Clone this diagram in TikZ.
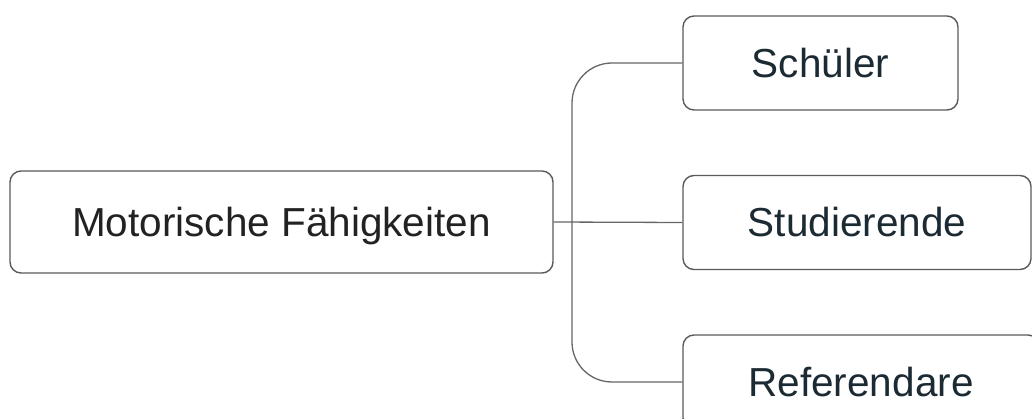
\documentclass[tikz,border=0pt]{standalone}
\usepackage{fontspec}
\setmainfont{Liberation Sans}
\definecolor{boxline}{HTML}{5A5A5A}
\definecolor{connline}{HTML}{666666}
\definecolor{maintext}{HTML}{222222}
\definecolor{leaftext}{HTML}{1B2A33}
\tikzset{
  box/.style={draw=boxline, line width=1.4pt, rounded corners=11pt, fill=white,
    inner sep=0pt, text height=29pt, text depth=0pt,
    font=\fontsize{40.5}{48}\selectfont},
  mainbox/.style={box, text=maintext, minimum width=543pt, minimum height=102pt},
  leafbox/.style={box, text=leaftext, minimum height=94pt},
  conn/.style={draw=connline, line width=1.3pt}
}
\begin{document}
\begin{tikzpicture}[x=1pt,y=1pt]
\useasboundingbox (0,0) rectangle (1032,-419);
\node[mainbox] (m) at (281.5,-222) {Motorische Fähigkeiten};
\node[leafbox, minimum width=275pt] (s) at (820.5,-63) {Schüler};
\node[leafbox, minimum width=348pt] (st) at (857,-222.5) {Studierende};
\node[leafbox, minimum width=356pt] (r) at (861,-382) {Referendare};
\coordinate (trunk) at (572,-222);
\draw[conn, rounded corners=40pt] (s.west) -| (trunk) |- (r.west);
\draw[conn] (m.east) -- (st.west);
\end{tikzpicture}
\end{document}
